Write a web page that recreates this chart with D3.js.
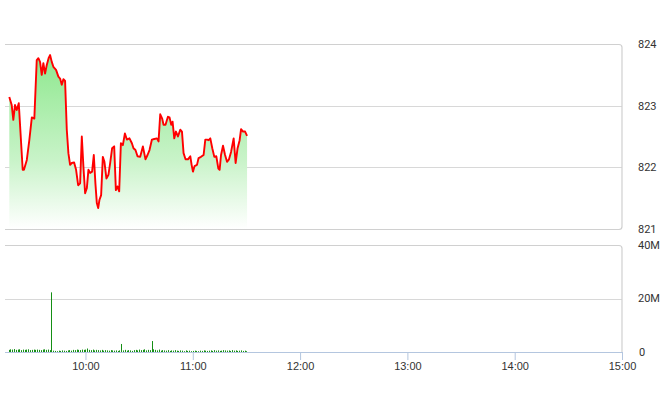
<!DOCTYPE html>
<html><head><meta charset="utf-8">
<script src="https://cdn.jsdelivr.net/npm/d3@7"></script>
<style>
html,body{margin:0;padding:0;background:#fff;}
svg{display:block;font-family:Roboto,"Liberation Sans",Arial,sans-serif;}
</style></head>
<body><svg id="c" width="660" height="412"></svg>
<script>
// minutes after 09:15
const priceTimes = [2.4,3.75,4.65,5.6,6.55,7.1,7.7,9.9,10.6,12.2,13.6,15.0,16.4,17.75,18.65,19.6,20.55,21.45,22.4,23.35,24.5,25.2,26.15,27.05,28.55,29.85,30.8,31.75,32.65,33.6,34.55,35.45,36.4,37.35,38.65,39.75,40.9,42.0,42.95,43.85,44.8,45.75,46.65,47.6,48.7,49.65,50.55,51.35,52.1,52.8,53.75,54.7,55.6,56.7,57.85,58.8,59.9,61.05,62.0,62.9,63.85,64.8,65.9,67.05,68.15,69.6,70.95,71.85,72.95,74.1,75.6,77.1,78.55,79.7,80.8,82.15,83.45,84.95,85.85,86.8,87.9,88.65,89.75,91.1,92.0,92.95,93.7,94.65,95.6,96.7,98.0,98.95,99.85,100.95,102.3,103.6,104.35,105.1,106.0,107.35,108.25,109.6,111.05,112.0,112.95,113.85,114.8,115.9,117.05,118.15,119.3,120.0,120.8,121.9,123.05,124.15,125.25,126.4,127.85,128.95,130.05,131.2,132.0,133.1,134.25,135.35];
const priceValues = [823.14,823.01,822.77,823.01,822.93,822.98,823.04,821.96,821.96,822.12,822.44,822.81,822.79,823.74,823.77,823.71,823.50,823.69,823.52,823.66,823.78,823.82,823.71,823.63,823.58,823.47,823.44,823.34,823.43,823.40,822.61,822.23,822.04,822.07,822.08,821.96,821.71,821.74,822.50,822.01,821.58,821.66,821.96,821.91,821.93,822.20,821.74,821.42,821.34,821.47,821.55,822.17,822.09,821.82,821.88,822.07,822.31,822.34,821.63,821.69,821.61,822.39,822.36,822.55,822.45,822.47,822.39,822.31,822.28,822.18,822.17,822.34,822.13,822.20,822.28,822.45,822.46,822.47,822.42,822.86,822.79,822.69,822.69,822.82,822.81,822.69,822.74,822.47,822.58,822.50,822.61,822.58,822.23,822.13,822.13,822.18,822.04,821.93,822.02,822.04,822.15,822.17,822.20,822.45,822.45,822.44,822.47,822.31,822.17,822.18,821.98,821.96,822.20,822.35,822.20,822.09,822.13,822.25,822.47,822.07,822.31,822.44,822.62,822.58,822.58,822.51];
// volume (millions), one per minute starting at minute 2
const volumeValues = [0.8,1.0,0.9,1.1,0.8,0.9,1.0,0.7,0.9,0.8,0.9,1.0,0.7,0.8,0.9,0.8,0.9,0.8,0.7,0.9,1.0,0.8,0.9,0.7,
22.3,
0.5,0.4,0.3,0.5,0.4,0.6,0.5,0.4,0.6,0.7,0.5,0.8,0.7,0.9,0.8,0.7,0.9,0.8,0.9,
1.3,
0.8,0.7,0.9,0.6,0.8,0.7,0.6,0.8,0.5,0.7,0.6,0.5,0.7,0.6,0.5,0.6,0.4,0.6,
3.0,
0.6,0.8,0.5,0.7,0.6,0.4,0.7,0.8,0.6,0.9,0.7,0.8,1.0,0.6,0.8,0.7,
4.1,
1.0,0.8,0.6,0.9,0.5,0.7,0.6,0.5,0.7,0.4,0.6,0.5,0.7,0.5,0.4,0.6,0.5,0.3,0.6,0.4,0.5,0.3,0.4,0.5,0.4,0.3,0.5,0.4,0.6,0.5,0.4,0.5,0.6,0.4,0.7,0.5,0.6,0.4,0.5,0.7,0.6,0.5,0.6,0.4,0.7,0.5,0.6,0.4,0.5,0.6,0.4,0.5,0.3];
const volumeStart = 2;
const priceTicks = [821,822,823,824];
const volumeTicks = [0,20,40];
const volumeTickLabels = ["0","20M","40M"];
const timeTicks = [45,105,165,225,285,345];
const timeTickLabels = ["10:00","11:00","12:00","13:00","14:00","15:00"];

const svg = d3.select("#c");
const xL = 5, xR = 622;
const x = d3.scaleLinear().domain([0,345]).range([xL,xR]);
const yP = d3.scaleLinear().domain([821,824]).range([229,44]);
const yV = d3.scaleLinear().domain([0,40]).range([352,245]);

const defs = svg.append("defs");
const grad = defs.append("linearGradient").attr("id","g")
  .attr("gradientUnits","userSpaceOnUse").attr("x1",0).attr("x2",0).attr("y1",yP(823.82)).attr("y2",yP(821));
grad.append("stop").attr("offset","0%").attr("stop-color","#8ee88e").attr("stop-opacity",1);
grad.append("stop").attr("offset","60%").attr("stop-color","#c8f3c8").attr("stop-opacity",1);
grad.append("stop").attr("offset","100%").attr("stop-color","#ffffff").attr("stop-opacity",1);

function panelRight(top,bot,color){
  const r=3;
  svg.append("path").attr("d",`M${xL},${top}H${xR-r}Q${xR},${top} ${xR},${top+r}V${bot-r}Q${xR},${bot} ${xR-r},${bot}H${xL}`)
    .attr("fill","none").attr("stroke",color).attr("stroke-width",1.2);
}
svg.append("g").selectAll("line").data([822,823]).join("line")
  .attr("x1",xL).attr("x2",xR).attr("y1",d=>Math.round(yP(d))+0.5).attr("y2",d=>Math.round(yP(d))+0.5)
  .attr("stroke","#d8d8d8").attr("stroke-width",1);
panelRight(Math.round(yP(824))+0.5, Math.round(yP(821))+0.5, "#d0d0d0");

svg.append("line").attr("x1",xL).attr("x2",xR).attr("y1",Math.round(yV(20))+0.5).attr("y2",Math.round(yV(20))+0.5)
  .attr("stroke","#d8d8d8").attr("stroke-width",1.2);
svg.append("path").attr("d",`M${xL},${Math.round(yV(40))+0.5}H${xR-3}Q${xR},${Math.round(yV(40))+0.5} ${xR},${Math.round(yV(40))+3.5}V${yV(0)}`)
  .attr("fill","none").attr("stroke","#d0d0d0").attr("stroke-width",1.2);

const pts = priceTimes.map((t,i)=>[t,priceValues[i]]);
svg.append("path").datum(pts)
  .attr("d",d3.area().x(d=>x(d[0])).y0(yP(821)).y1(d=>yP(d[1])))
  .attr("fill","url(#g)");
svg.append("path").datum(pts)
  .attr("d",d3.line().x(d=>x(d[0])).y(d=>yP(d[1])))
  .attr("fill","none").attr("stroke","#ff0000").attr("stroke-width",1.9).attr("stroke-linejoin","round");

svg.append("g").selectAll("line").data(volumeValues).join("line")
  .attr("x1",(d,i)=>Math.round(x(volumeStart+i))+0.5).attr("x2",(d,i)=>Math.round(x(volumeStart+i))+0.5)
  .attr("y1",yV(0)).attr("y2",d=>yV(d))
  .attr("stroke","#158f15").attr("stroke-width",1);

const xa = svg.append("g").attr("transform",`translate(0,${yV(0)})`)
  .call(d3.axisBottom(x).tickValues(timeTicks).tickFormat((d,i)=>timeTickLabels[i]).tickSize(8).tickSizeOuter(0));
xa.select(".domain").attr("stroke","#b4c6df").attr("d",`M${xL},0.5H${xR}`);
xa.selectAll(".tick line").attr("stroke","#b4c6df");
xa.selectAll(".tick text").attr("fill","#333").attr("font-size",11).attr("dy","0.9em").attr("y",8);

svg.append("g").selectAll("text").data(priceTicks).join("text")
  .attr("x",638).attr("y",d=>yP(d)).attr("dy","0.35em")
  .attr("font-size",11).attr("fill","#333").text(d=>d3.format("d")(d));
svg.append("g").selectAll("text").data(volumeTicks).join("text")
  .attr("x",(d,i)=>i===0?639:638).attr("y",d=>yV(d)).attr("dy","0.35em")
  .attr("font-size",11).attr("fill","#333").text((d,i)=>volumeTickLabels[i]);
</script></body></html>
